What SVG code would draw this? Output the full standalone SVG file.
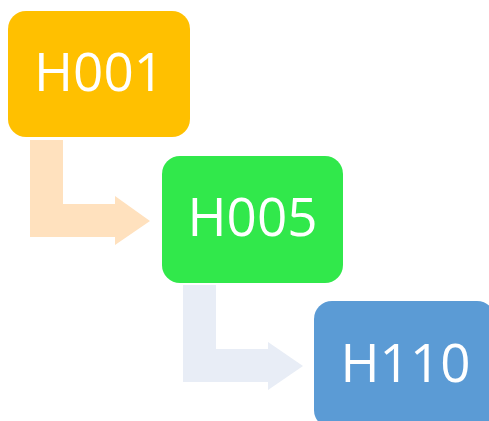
<svg xmlns="http://www.w3.org/2000/svg" width="489" height="421" viewBox="0 0 489 421">
  <style>
    .box-label { font-family: "Open Sans", "Noto Sans", sans-serif; font-size: 53px; fill: #ffffff; text-anchor: middle; }
  </style>
  <rect width="489" height="421" fill="#ffffff"/>
  <g id="connectors">
    <!-- bent arrow H001 -> H005 -->
    <path d="M30,140 H63 V204 H115 V196 L150,221 L115,245 V237 H30 Z" fill="#FFE1BE"/>
    <!-- bent arrow H005 -> H110 -->
    <path d="M183,285 H216 V349 H268 V342 L303,366 L268,390 V382 H183 Z" fill="#E8EDF6"/>
  </g>
  <g id="node-h001">
    <rect x="8" y="11" width="182" height="126" rx="18" fill="#FFC000"/>
    <text class="box-label" x="99" y="91">H001</text>
  </g>
  <g id="node-h005">
    <rect x="162" y="156" width="181" height="127" rx="18" fill="#31E84B"/>
    <text class="box-label" x="252.5" y="236">H005</text>
  </g>
  <g id="node-h110">
    <rect x="314" y="301" width="181" height="127" rx="18" fill="#5B9BD5"/>
    <text class="box-label" x="405.5" y="382">H110</text>
  </g>
</svg>
